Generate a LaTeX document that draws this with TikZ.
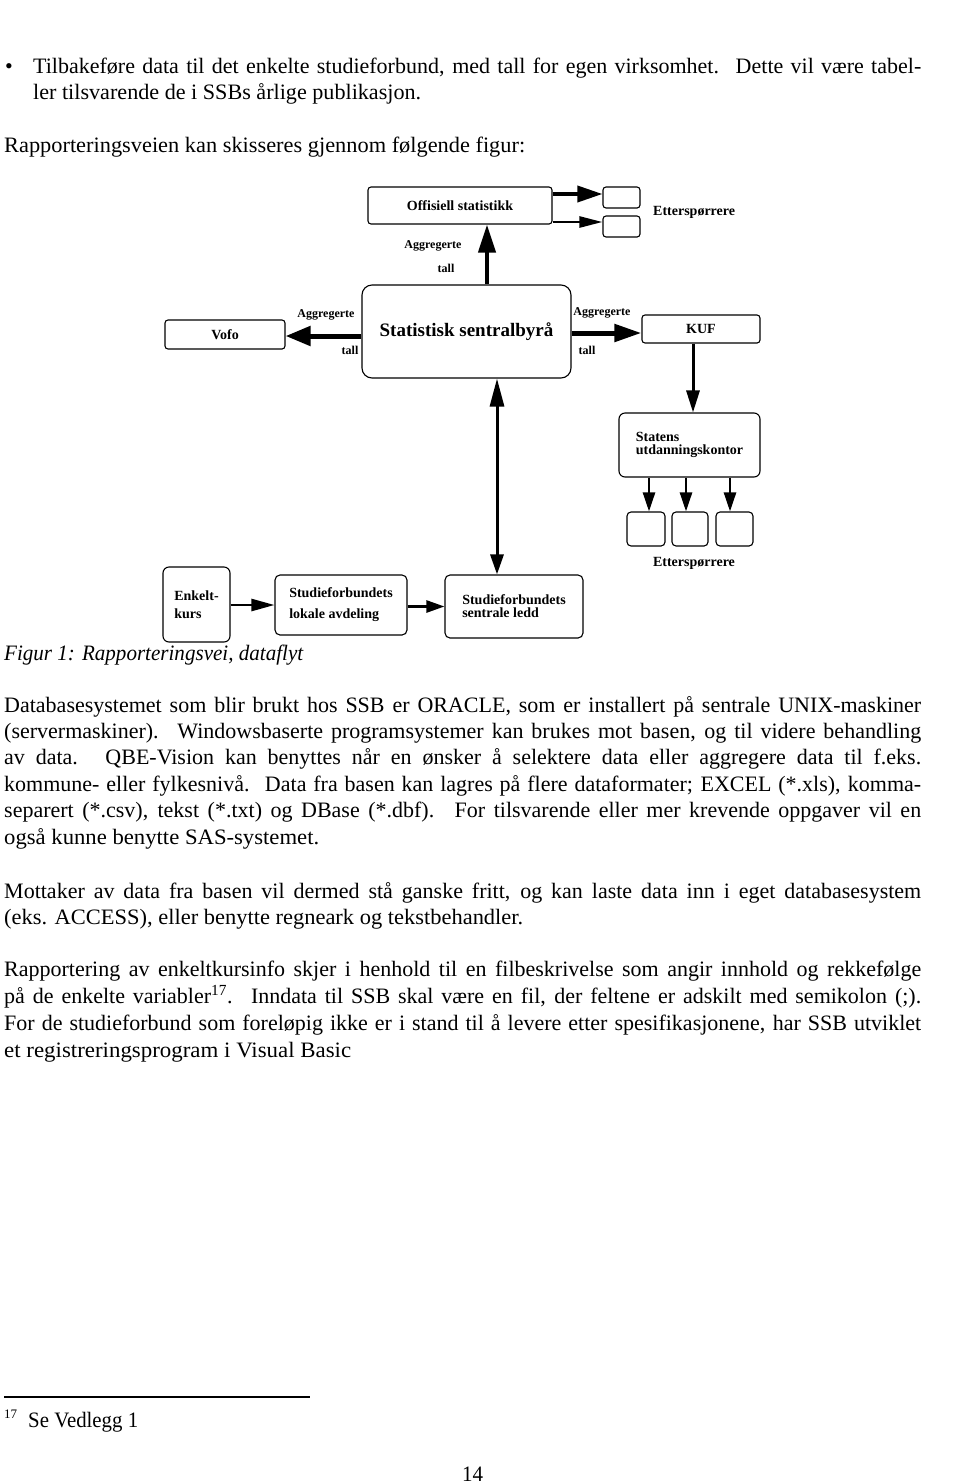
\documentclass[tikz,border=0pt]{standalone}
\usepackage{fontspec}
\setmainfont{Liberation Serif}
\usepackage{graphicx}
\usetikzlibrary{arrows.meta}
\tikzset{
  box/.style={draw, line width=1.1pt, rounded corners=4pt, inner sep=0pt, align=left,
    font=\bfseries\fontsize{14}{14}\selectfont},
  lbl/.style={inner sep=0pt, font=\bfseries\fontsize{12}{12}\selectfont},
  txt/.style={inner sep=0pt, anchor=base west, font=\fontsize{22}{26}\selectfont},
  thickarr/.style={line width=5pt, -{Triangle[length=25pt,width=19pt]}},
  midarr/.style={line width=3.5pt, -{Triangle[length=25pt,width=16pt]}},
  thinarr/.style={line width=2.5pt, -{Triangle[length=19pt,width=12pt]}}
}
\newcommand{\jl}[1]{\makebox[917pt][s]{#1}}
\newcommand{\nl}[2]{\resizebox{#1}{\height}{#2}}
\newcommand{\dsp}{\hspace{4pt}}
\begin{document}
\begin{tikzpicture}[x=1pt,y=-1pt]
\useasboundingbox (0,0) rectangle (960,1484);

% ---- top text
\node[txt] (bul) at (5,73) {\textbullet};
\node[txt] (t1) at (33,73) {\makebox[888pt][s]{Tilbakeføre data til det enkelte studieforbund, med tall for egen virksomhet.\dsp{} Dette vil være tabel-}};
\node[txt] (t2) at (33,99) {\nl{388pt}{ler tilsvarende de i SSBs årlige publikasjon.}};
\node[txt] (t3) at (4,152) {\nl{521pt}{Rapporteringsveien kan skisseres gjennom følgende figur:}};

% ---- diagram boxes
\node[box, rounded corners=3pt, minimum width=184pt, minimum height=37pt] (off) at (460,205.5) {Offisiell statistikk};
\node[box, rounded corners=3pt, minimum width=37pt, minimum height=21pt] (e1) at (621.5,197.5) {};
\node[box, rounded corners=3pt, minimum width=37pt, minimum height=21pt] (e2) at (621.5,226.5) {};
\node[lbl, font=\bfseries\fontsize{14}{14}\selectfont, anchor=west] (et1) at (653,212) {Etterspørrere};

\node[box, rounded corners=10pt, minimum width=209pt, minimum height=93pt,
      font=\bfseries\fontsize{19}{19}\selectfont] (ssb) at (466.5,331.5) {Statistisk sentralbyrå};
\node[box, rounded corners=3pt, minimum width=120pt, minimum height=29pt] (vofo) at (225,334.5) {Vofo};
\node[box, rounded corners=3pt, minimum width=118pt, minimum height=28pt] (kuf) at (701,329) {KUF};
\node[box, rounded corners=6pt, minimum width=141pt, minimum height=64pt] (stat) at (689.5,445) {Statens\\[-1pt]utdanningskontor};
\node[box, rounded corners=4pt, minimum width=38pt, minimum height=34pt] (s1) at (646,529) {};
\node[box, rounded corners=4pt, minimum width=36pt, minimum height=34pt] (s2) at (690,529) {};
\node[box, rounded corners=4pt, minimum width=37pt, minimum height=34pt] (s3) at (734.5,529) {};
\node[lbl, font=\bfseries\fontsize{14}{14}\selectfont] (et2) at (694,563) {Etterspørrere};

\node[box, rounded corners=6pt, minimum width=67pt, minimum height=75pt] (enk) at (196.5,604.5) {Enkelt-\\[4pt]kurs};
\node[box, rounded corners=5pt, minimum width=132pt, minimum height=60pt] (lok) at (341,605) {Studieforbundets\\[7pt]lokale avdeling};
\node[box, rounded corners=5pt, minimum width=138pt, minimum height=63pt] (sen) at (514,606.5) {Studieforbundets\\[-1pt]sentrale ledd};

% ---- labels
\node[lbl] (l1a) at (433,246) {Aggregerte};
\node[lbl] (l1b) at (446,268) {tall};
\node[lbl] (l2a) at (326,315) {Aggregerte};
\node[lbl] (l2b) at (350,350) {tall};
\node[lbl] (l3a) at (602,313) {Aggregerte};
\node[lbl] (l3b) at (587,350) {tall};

% ---- connector anchor points
\coordinate (e1in) at ([yshift=3.5pt]e1.west);
\coordinate (e2in) at ([yshift=4.5pt]e2.west);
\coordinate (offup) at ([xshift=20.5pt]ssb.north);
\coordinate (vofoin) at ([yshift=-1.5pt]vofo.east);
\coordinate (kufin) at ([yshift=-4pt]kuf.west);
\coordinate (kufout) at ([xshift=-8pt]kuf.south);
\coordinate (s1in) at ([xshift=3pt]s1.north);
\coordinate (s2in) at ([xshift=-4pt]s2.north);
\coordinate (s3in) at ([xshift=-4.5pt]s3.north);
\coordinate (ssbdn) at ([xshift=30.5pt]ssb.south);

% ---- connectors
\draw[midarr] (off.east |- e1in) -- (e1in);
\draw[line width=2.5pt, -{Triangle[length=23pt,width=11pt]}] (off.east |- e2in) -- (e2in);
\draw[line width=4pt, -{Triangle[length=28pt,width=17pt]}] (offup) -- (offup |- off.south);
\draw[thickarr] (ssb.west |- vofoin) -- (vofoin);
\draw[line width=5pt, -{Triangle[length=27pt,width=17pt]}] (ssb.east |- kufin) -- (kufin);
\draw[line width=3pt, -{Triangle[length=22pt,width=13pt]}] (kufout) -- (kufout |- stat.north);
\draw[thinarr] (s1in |- stat.south) -- (s1in);
\draw[thinarr] (s2in |- stat.south) -- (s2in);
\draw[thinarr] (s3in |- stat.south) -- (s3in);
\draw[line width=2.5pt, -{Triangle[length=23pt,width=12pt]}] (enk.east |- lok.west) -- (lok.west);
\draw[line width=2.5pt, -{Triangle[length=18pt,width=12pt]}] (lok.east |- sen.west) -- (sen.west);
\draw[line width=3pt, {Triangle[length=28pt,width=14pt]}-{Triangle[length=20pt,width=13pt]}] (ssbdn) -- (ssbdn |- sen.north);

% ---- caption
\node[txt] (cap) at (4,660) {\nl{299pt}{\itshape Figur 1: Rapporteringsvei, dataflyt}};

% ---- paragraph 1
\node[txt] (p1a) at (4,712) {\jl{Databasesystemet som blir brukt hos SSB er ORACLE, som er installert på sentrale UNIX-maskiner}};
\node[txt] (p1b) at (4,738) {\jl{(servermaskiner).\dsp{} Windowsbaserte programsystemer kan brukes mot basen, og til videre behandling}};
\node[txt] (p1c) at (4,764.5) {\jl{av data.\dsp{} QBE-Vision kan benyttes når en ønsker å selektere data eller aggregere data til f.eks.}};
\node[txt] (p1d) at (4,791) {\jl{kommune- eller fylkesnivå.\dsp{} Data fra basen kan lagres på flere dataformater; EXCEL (*.xls), komma-}};
\node[txt] (p1e) at (4,817.5) {\jl{separert (*.csv), tekst (*.txt) og DBase (*.dbf).\dsp{} For tilsvarende eller mer krevende oppgaver vil en}};
\node[txt] (p1f) at (4,844) {\nl{315pt}{også kunne benytte SAS-systemet.}};

% ---- paragraph 2
\node[txt] (p2a) at (4,898) {\jl{Mottaker av data fra basen vil dermed stå ganske fritt, og kan laste data inn i eget databasesystem}};
\node[txt] (p2b) at (4,924) {\nl{519pt}{(eks. ACCESS), eller benytte regneark og tekstbehandler.}};

% ---- paragraph 3
\node[txt] (p3a) at (4,976) {\jl{Rapportering av enkeltkursinfo skjer i henhold til en filbeskrivelse som angir innhold og rekkefølge}};
\node[txt] (p3b) at (4,1003) {\jl{på de enkelte variabler\textsuperscript{17}.\dsp{} Inndata til SSB skal være en fil, der feltene er adskilt med semikolon (;).}};
\node[txt] (p3c) at (4,1030) {\jl{For de studieforbund som foreløpig ikke er i stand til å levere etter spesifikasjonene, har SSB utviklet}};
\node[txt] (p3d) at (4,1057) {\nl{347pt}{et registreringsprogram i Visual Basic}};

% ---- footnote
\coordinate (fr1) at (4,1397);
\coordinate (fr2) at (310,1397);
\draw[line width=1.3pt] (fr1) -- (fr2);
\node[txt, font=\fontsize{13}{13}\selectfont] (fn0) at (4,1418) {17};
\node[txt] (fn1) at (28,1427) {\nl{110pt}{Se Vedlegg 1}};
\node[txt] (pg) at (462,1481) {\nl{21pt}{14}};
\end{tikzpicture}
\end{document}
